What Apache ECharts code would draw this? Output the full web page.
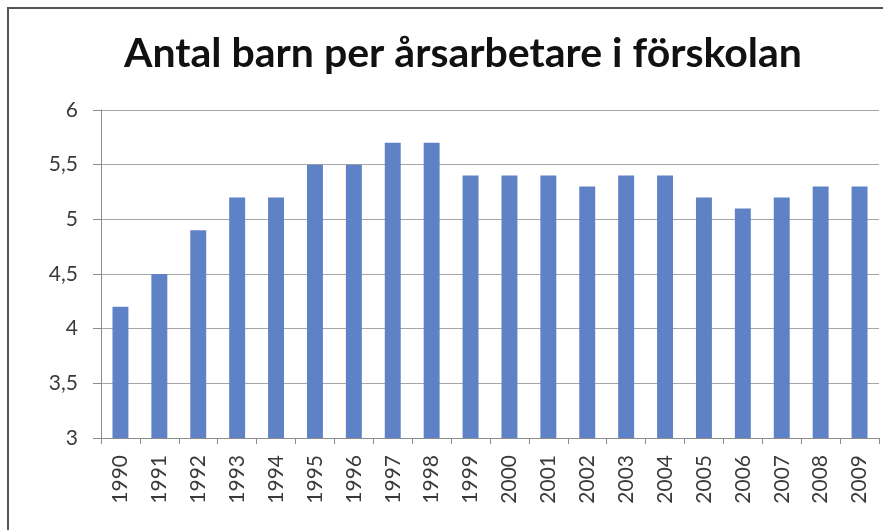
<!DOCTYPE html>
<html>
<head>
<meta charset="utf-8">
<script src="https://cdn.jsdelivr.net/npm/echarts@6/dist/echarts.min.js"></script>
<style>
  html, body { margin: 0; padding: 0; background: #fff; }
  #chart { width: 883px; height: 530px; }
</style>
</head>
<body>
<div id="chart"></div>
<script>
var chart = echarts.init(document.getElementById('chart'));

var years = ['1990', '1991', '1992', '1993', '1994', '1995', '1996', '1997', '1998', '1999',
             '2000', '2001', '2002', '2003', '2004', '2005', '2006', '2007', '2008', '2009'];
var barnPerArsarbetare = [4.2, 4.5, 4.9, 5.2, 5.2, 5.5, 5.5, 5.7, 5.7, 5.4,
                          5.4, 5.4, 5.3, 5.4, 5.4, 5.2, 5.1, 5.2, 5.3, 5.3];

var option = {
    animation: false,
    backgroundColor: '#fff',
    textStyle: { fontFamily: 'Lato' },
    title: {
        text: 'Antal barn per årsarbetare i förskolan',
        left: 119,
        top: 28,
        textStyle: { fontFamily: 'Lato', fontSize: 41, fontWeight: 'bold', color: '#111' }
    },
    graphic: [{
        type: 'rect',
        shape: { x: 8, y: 8, width: 900, height: 540 },
        style: { fill: 'none', stroke: '#555', lineWidth: 2 },
        silent: true
    }],
    grid: { left: 101, right: 4, top: 110, bottom: 92 },
    xAxis: {
        type: 'category',
        data: years,
        axisLine: { lineStyle: { color: '#8c8c8c' } },
        axisTick: { show: true, length: 6, alignWithLabel: false, lineStyle: { color: '#8c8c8c' } },
        axisLabel: { rotate: 90, fontSize: 21, color: '#3a3a3a', margin: 17, interval: 0 }
    },
    yAxis: {
        type: 'value',
        min: 3,
        max: 6,
        interval: 0.5,
        axisLine: { show: true, lineStyle: { color: '#8c8c8c' } },
        axisTick: { show: true, length: 8, lineStyle: { color: '#8c8c8c' } },
        splitLine: { lineStyle: { color: '#a6a6a6', width: 1 } },
        axisLabel: {
            fontSize: 21, color: '#3a3a3a', margin: 23,
            formatter: function (v) { return String(v).replace('.', ','); }
        }
    },
    series: [{
        type: 'bar',
        data: barnPerArsarbetare,
        barWidth: '41%',
        itemStyle: { color: '#5f82c6' }
    }]
};

chart.setOption(option);
</script>
</body>
</html>
